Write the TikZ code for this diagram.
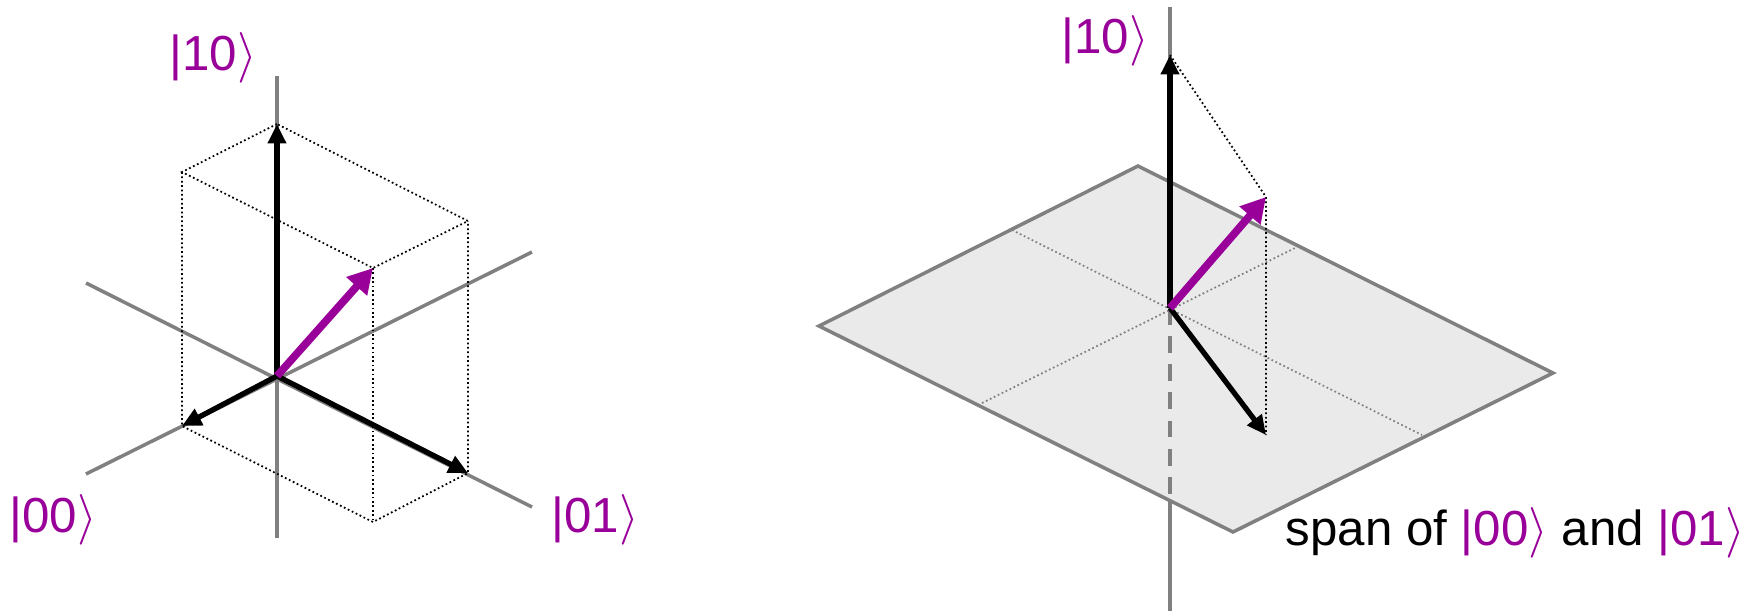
\documentclass[tikz,border=0pt]{standalone}
\usepackage{fontspec}
\setmainfont{Liberation Sans}
\usetikzlibrary{arrows.meta}
\definecolor{ketpurple}{RGB}{153,0,153}
\definecolor{axisgray}{RGB}{128,128,128}
\definecolor{planefill}{RGB}{234,234,234}
\newcommand{\ketlbl}[1]{\textcolor{ketpurple}{|#1$\rangle$}}

\begin{document}
\begin{tikzpicture}[
    x=0.01cm, y=-0.01cm,
    font=\fontsize{14}{16}\selectfont,
    axis/.style     ={draw=axisgray, line width=1pt},
    hidden/.style   ={axis, dash pattern=on 4.8pt off 3.2pt},
    guide/.style    ={line width=0.5pt, dash pattern=on 0.5pt off 0.75pt},
    planeguide/.style={guide, draw=axisgray},
    basis/.style    ={-{Triangle[length=5.5pt, width=5pt]}, line width=1.5pt},
    state/.style    ={-{Triangle[length=7pt, width=7.5pt]}, line width=2.2pt,
                      draw=ketpurple},
    lbl/.style      ={inner sep=0pt, anchor=base west}
]
\useasboundingbox (0,0) rectangle (1750,611);

% --- Left: three axes with the box ---
\coordinate (o)    at (277,376);
\coordinate (e00)  at (182,426);
\coordinate (e01)  at (468,473);
\coordinate (e10)  at (277,124);
\coordinate (psi)  at (373,268);
\coordinate (bot)  at (373,522);
\coordinate (tl)   at (182,172);
\coordinate (tr)   at (468,221);

\draw[axis] (277,76) coordinate (vt) -- (277,538) coordinate (vb);
\draw[axis] (86,283) coordinate (at) -- (532,507) coordinate (ab);
\draw[axis] (86,474) coordinate (bt) -- (532,252) coordinate (bb);

\draw[guide] (e10) -- (tl) -- (psi) -- (tr) -- cycle;
\draw[guide] (tl) -- (e00) -- (bot) -- (e01) -- (tr);
\draw[guide] (psi) -- (bot);

\draw[basis] (o) -- (e10);
\draw[basis] (o) -- (e00);
\draw[basis] (o) -- (e01);
\draw[state] (o) -- (psi);

\node[lbl] (k10) at (169,70)  {\ketlbl{10}};
\node[lbl] (k00) at (9,532)   {\ketlbl{00}};
\node[lbl] (k01) at (551,532) {\ketlbl{01}};

% --- Right: plane spanned by |00> and |01> ---
\coordinate (pl) at (819,326);
\coordinate (pt) at (1138,166);
\coordinate (pr) at (1553,373);
\coordinate (pb) at (1233,532);
\coordinate (q)     at (1170,308);
\coordinate (q10)   at (1170,55);
\coordinate (qpsi)  at (1266,197);
\coordinate (qproj) at (1266,435);
\coordinate (qtop)  at (1170,7);
\coordinate (qedge) at (1170,501);
\coordinate (qbot)  at (1170,611);

\draw[axis, fill=planefill] (pl) -- (pt) -- (pr) -- (pb) -- cycle;
\draw[planeguide] (1012,230) coordinate (ga) -- (1422,435) coordinate (gb);
\draw[planeguide] (982,403) coordinate (gc) -- (1295,248) coordinate (gd);

\draw[axis] (qtop) -- (q);
\draw[hidden] (q) -- (qedge);
\draw[axis] (qedge) -- (qbot);

\draw[guide] (q10) -- (qpsi) -- (qproj);

\draw[basis] (q) -- (q10);
\draw[basis] (q) -- (qproj);
\draw[state] (q) -- (qpsi);

\node[lbl] (r10)  at (1061,53) {\ketlbl{10}};
\node[lbl] (span) at (1285,545) {span of \ketlbl{00} and \ketlbl{01}};

\end{tikzpicture}
\end{document}
